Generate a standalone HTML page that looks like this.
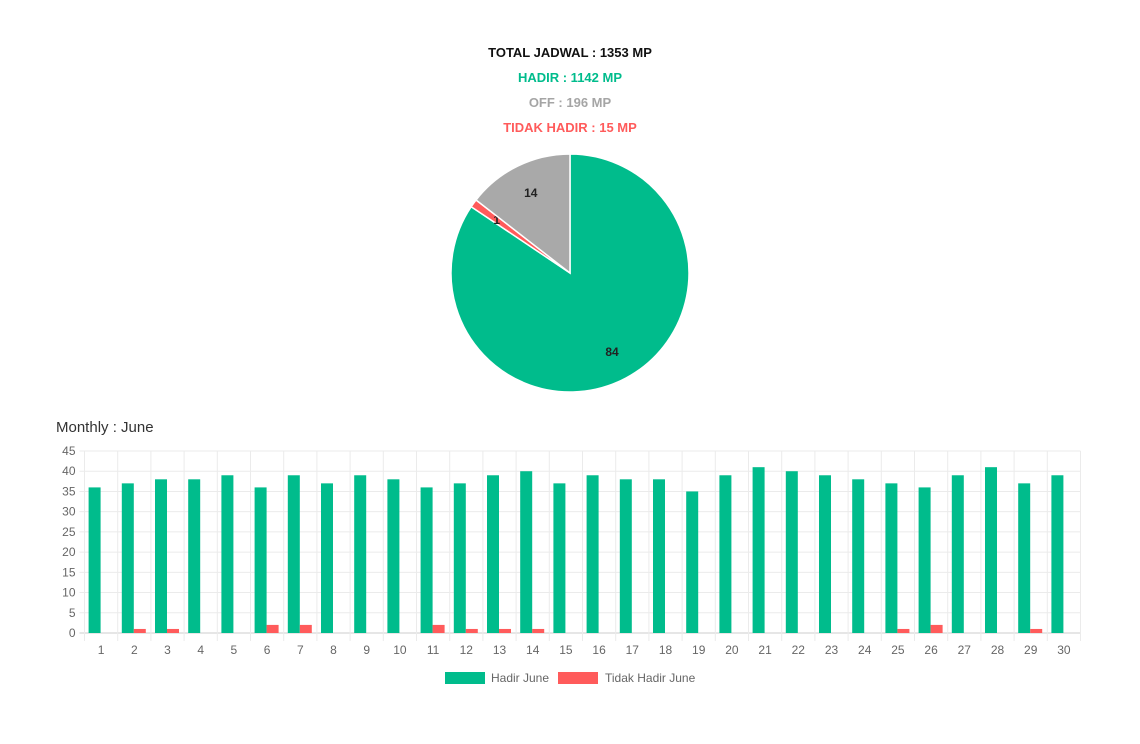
<!DOCTYPE html>
<html><head><meta charset="utf-8"><style>
body{margin:0;background:#fff;width:1140px;height:739px;overflow:hidden;font-family:"Liberation Sans",sans-serif;}
</style></head><body>
<svg width="1140" height="739" id="svg">
<g font-weight="bold" font-size="13" text-anchor="middle">
<text x="570" y="57" fill="#111">TOTAL JADWAL : 1353 MP</text>
<text x="570" y="82" fill="#00bc8c">HADIR : 1142 MP</text>
<text x="570" y="107" fill="#a5a5a5">OFF : 196 MP</text>
<text x="570" y="132" fill="#ff5b5b">TIDAK HADIR : 15 MP</text>
</g>
<g id="pie"></g>
<text x="56" y="432" font-size="15" fill="#333">Monthly : June</text>
<g id="bar"></g>
<g font-size="12" fill="#666">
<rect x="445" y="672" width="40" height="12" fill="#00bc8c"/>
<text x="491" y="682">Hadir June</text>
<rect x="558" y="672" width="40" height="12" fill="#ff5b5b"/>
<text x="605" y="682">Tidak Hadir June</text>
</g>
</svg>
<script>
const pieLabels=['Hadir','Tidak Hadir','Off'];
const pieValues=[1142,15,196];
const pieColors=['#00bc8c','#ff5b5b','#a9a9a9'];
const days=[1,2,3,4,5,6,7,8,9,10,11,12,13,14,15,16,17,18,19,20,21,22,23,24,25,26,27,28,29,30];
const hadir=[36,37,38,38,39,36,39,37,39,38,36,37,39,40,37,39,38,38,35,39,41,40,39,38,37,36,39,41,37,39];
const tidak=[0,1,1,0,0,2,2,0,0,0,2,1,1,1,0,0,0,0,0,0,0,0,0,0,1,2,0,0,1,0];
const yTicks=[0,5,10,15,20,25,30,35,40,45];
const NS='http://www.w3.org/2000/svg';
function mk(t,a,p){const e=document.createElementNS(NS,t);for(const k in a)e.setAttribute(k,a[k]);p.appendChild(e);return e;}
// pie
const pg=document.getElementById('pie');
const cx=570,cy=273,R=119;
const tot=pieValues.reduce((a,b)=>a+b,0);
let ang=-Math.PI/2;
pieValues.forEach((v,i)=>{
 const a2=ang+v/tot*2*Math.PI;
 const large=(a2-ang)>Math.PI?1:0;
 const p=mk('path',{d:`M${cx},${cy} L${cx+R*Math.cos(ang)},${cy+R*Math.sin(ang)} A${R},${R} 0 ${large} 1 ${cx+R*Math.cos(a2)},${cy+R*Math.sin(a2)} Z`,fill:pieColors[i],stroke:'#fff','stroke-width':1.5},pg);
 
 
 const m=(ang+a2)/2, r=i==1?R*0.76:R*0.75;
 const t=mk('text',{x:cx+r*Math.cos(m),y:cy+r*Math.sin(m)+4,'text-anchor':'middle','font-size':12,'font-weight':'bold',fill:'#222'},pg);
 t.textContent=Math.round(v/tot*100);
 
 
 ang=a2;
});
// bars
const bg=document.getElementById('bar');
const X0=84.5,X1=1080.5,Y0=633,Y1=451,YMAX=45;
const bw=(X1-X0)/days.length;
const y=v=>Y0-(v/YMAX)*(Y0-Y1);
yTicks.forEach(t=>{
 const l=mk('line',{x1:X0-5,x2:X1,y1:y(t),y2:y(t),stroke:t==0?'#ccc':'#ebebeb'},bg);
 
 
 const tx=mk('text',{x:X0-9,y:y(t)+4,'text-anchor':'end','font-size':12,fill:'#666'},bg);
 tx.textContent=t;
 
 
});
for(let i=0;i<=days.length;i++){
 const l=mk('line',{x1:X0+i*bw,x2:X0+i*bw,y1:Y1,y2:Y0+8,stroke:'#ebebeb'},bg);
 
 
}
days.forEach((d,i)=>{
 const c=X0+(i+0.5)*bw;
 const g=mk('rect',{x:c-12.5,y:y(hadir[i]),width:12,height:Y0-y(hadir[i]),fill:'#00bc8c'},bg);
 
 
 if(tidak[i]>0){
 const r=mk('rect',{x:c-0.5,y:y(tidak[i]),width:12,height:Y0-y(tidak[i]),fill:'#ff5b5b'},bg);
 
 
 }
 const t=mk('text',{x:c,y:654,'text-anchor':'middle','font-size':12,fill:'#666'},bg);
 t.textContent=d;
 
 
});
</script>
</body></html>
